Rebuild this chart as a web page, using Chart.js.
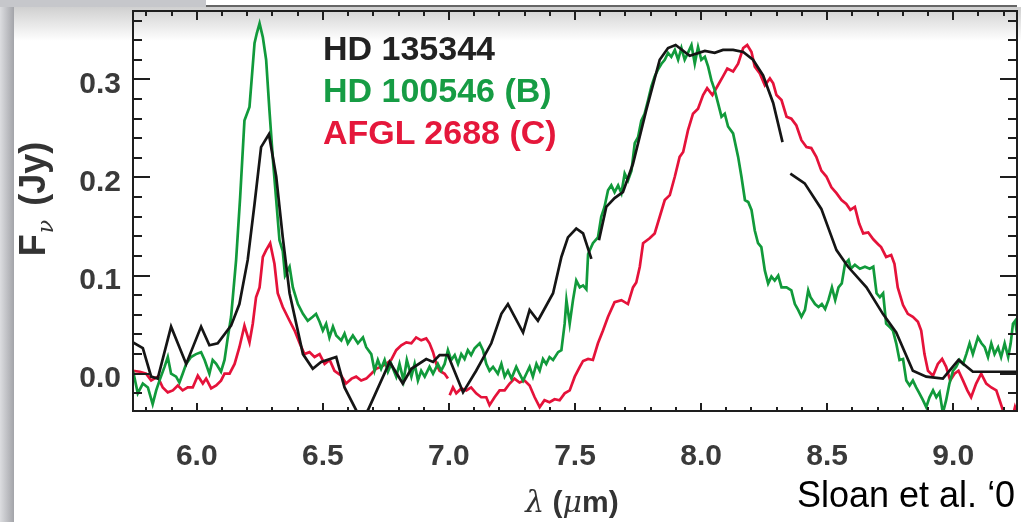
<!DOCTYPE html>
<html>
<head>
<meta charset="utf-8">
<script src="https://cdn.jsdelivr.net/npm/chart.js@4.4.1/dist/chart.umd.min.js"></script>
<style>
  html, body { margin: 0; padding: 0; background: #fff; }
  #wrap { position: relative; width: 1021px; height: 522px; overflow: hidden; background: #fff; }
  .strip-left { position: absolute; left: 0; top: 0; width: 14px; height: 522px;
    background: linear-gradient(to right, #dcdde0, #a3a4a9); }
  .strip-top { position: absolute; left: 0; top: 0; width: 206px; height: 7px; background: #c6c7cb; }
  .band-top { position: absolute; left: 206px; top: 5px; width: 811px; height: 2px; background: #666; }
  .shadow-top { position: absolute; left: 14px; top: 7px; width: 1007px; height: 34px;
    background: linear-gradient(to bottom, rgba(150,150,150,0.45), rgba(255,255,255,0)); }
  canvas { position: absolute; left: 0; top: 0; }
  .txt { position: absolute; font-family: "Liberation Sans", Arial, sans-serif; white-space: nowrap; }
  .legend { left: 323px; top: 27px; font-size: 34px; font-weight: bold; line-height: 42px; }
  .ytitle { left: -37px; top: 179px; width: 140px; height: 40px; line-height: 40px; text-align: center;
    font-size: 36px; font-weight: bold; color: #333; transform: rotate(-90deg); }
  .ytitle i { font-family: "DejaVu Serif", serif; font-weight: normal; font-size: 22px; position: relative; top: 8px; margin-left: 1px; margin-right: 4px; }
  .xtitle { left: 472px; top: 484px; width: 200px; text-align: center; font-size: 30px; line-height: 36px; color: #333; }
  .xtitle i { font-family: "DejaVu Serif", serif; }
  .cite { left: 797px; top: 475px; font-size: 36px; line-height: 40px; color: #000; }
</style>
</head>
<body>
<div id="wrap">
  <div class="strip-left"></div>
  <div class="strip-top"></div>
  <div class="band-top"></div>
  <div class="shadow-top"></div>
  <canvas id="js-spectrum" width="1021" height="522"></canvas>
  <div class="txt legend">
    <div style="color:#222">HD 135344</div>
    <div style="color:#169c44">HD 100546 (B)</div>
    <div style="color:#e5173b">AFGL 2688 (C)</div>
  </div>
  <div class="txt ytitle">F<i>ν</i> (Jy)</div>
  <div class="txt xtitle"><i>λ</i> <b>(</b><i>μ</i><b>m)</b></div>
  <div class="txt cite">Sloan et al. ‘0</div>
</div>
<script>
"use strict";

// 横軸ラベル・目盛り
const xTickValues = [6.0, 6.5, 7.0, 7.5, 8.0, 8.5, 9.0];
const yTickValues = [0.0, 0.1, 0.2, 0.3];

// HD 135344 (黒) null = 途切れ
const hd135344Lam = [
  5.747, 5.786, 5.819, 5.845, 5.898, 5.958, 6.017, 6.050, 6.083, 6.136,
  6.169, 6.202, 6.229, 6.255, 6.286, 6.315, 6.341, 6.368, 6.421, 6.460,
  6.493, 6.553, 6.586, 6.632, 6.655, 6.679, 6.765, 6.817, 6.851, 6.910,
  6.937, 6.963, 6.996, 7.056, 7.108, 7.168, 7.208, 7.234, 7.294, 7.320,
  7.353, 7.413, 7.446, 7.472, 7.505, 7.532, 7.565, 7.580, 7.595, 7.624,
  7.657, 7.690, 7.730, 7.783, 7.836, 7.869, 7.899, 7.955, 8.015, 8.054,
  8.087, 8.127, 8.167, 8.206, 8.246, 8.286, 8.323, 8.340, 8.354, 8.411,
  8.477, 8.537, 8.583, 8.656, 8.721, 8.774, 8.840, 8.893, 8.959, 9.021,
  9.078, 9.250
];
const hd135344Flux = [
  0.032, 0.026, -0.003, -0.005, 0.048, 0.010, 0.048, 0.029, 0.031, 0.049,
  0.071, 0.116, 0.173, 0.231, 0.244, 0.201, 0.139, 0.082, 0.020, 0.005,
  0.012, 0.017, -0.014, -0.037, -0.048, -0.037, 0.012, -0.010, 0.005, 0.015,
  0.012, 0.019, 0.019, -0.019, 0.003, 0.031, 0.061, 0.071, 0.042, 0.065,
  0.054, 0.082, 0.119, 0.139, 0.148, 0.143, 0.117, null, 0.136, 0.170,
  0.179, 0.185, 0.214, 0.269, 0.320, 0.332, 0.335, 0.324, 0.329, 0.327,
  0.330, 0.330, 0.328, 0.320, 0.304, 0.276, 0.236, null, 0.204, 0.194,
  0.168, 0.126, 0.109, 0.088, 0.061, 0.042, 0.003, -0.003, -0.005, 0.014,
  0.002, 0.002
];

// HD 100546 (緑)
const hd100546Lam = [
  5.747, 5.766, 5.786, 5.806, 5.825, 5.839, 5.852, 5.872, 5.885, 5.898,
  5.918, 5.931, 5.944, 5.958, 5.977, 5.997, 6.017, 6.031, 6.050, 6.063,
  6.077, 6.096, 6.110, 6.123, 6.136, 6.156, 6.172, 6.189, 6.209, 6.229,
  6.238, 6.249, 6.262, 6.275, 6.288, 6.302, 6.315, 6.328, 6.341, 6.350,
  6.368, 6.381, 6.401, 6.421, 6.440, 6.460, 6.473, 6.487, 6.500, 6.513,
  6.526, 6.540, 6.553, 6.573, 6.586, 6.599, 6.619, 6.639, 6.659, 6.672,
  6.692, 6.705, 6.718, 6.731, 6.745, 6.758, 6.771, 6.791, 6.804, 6.820,
  6.833, 6.851, 6.864, 6.877, 6.890, 6.904, 6.923, 6.937, 6.956, 6.969,
  6.983, 6.996, 7.009, 7.023, 7.036, 7.049, 7.062, 7.075, 7.088, 7.102,
  7.122, 7.135, 7.148, 7.161, 7.175, 7.194, 7.208, 7.221, 7.234, 7.248,
  7.267, 7.280, 7.294, 7.307, 7.320, 7.333, 7.347, 7.360, 7.373, 7.386,
  7.399, 7.413, 7.433, 7.446, 7.459, 7.466, 7.479, 7.492, 7.505, 7.519,
  7.532, 7.545, 7.552, 7.571, 7.591, 7.604, 7.617, 7.631, 7.644, 7.657,
  7.671, 7.684, 7.697, 7.710, 7.724, 7.737, 7.750, 7.763, 7.776, 7.790,
  7.803, 7.816, 7.829, 7.843, 7.856, 7.869, 7.882, 7.896, 7.909, 7.922,
  7.935, 7.948, 7.962, 7.975, 7.988, 8.001, 8.015, 8.028, 8.041, 8.054,
  8.067, 8.081, 8.094, 8.107, 8.127, 8.147, 8.160, 8.174, 8.187, 8.200,
  8.213, 8.226, 8.239, 8.253, 8.266, 8.279, 8.292, 8.306, 8.319, 8.339,
  8.358, 8.372, 8.385, 8.398, 8.412, 8.425, 8.434, 8.452, 8.466, 8.479,
  8.492, 8.505, 8.519, 8.532, 8.545, 8.558, 8.571, 8.585, 8.594, 8.610,
  8.630, 8.650, 8.669, 8.683, 8.696, 8.709, 8.722, 8.734, 8.747, 8.761,
  8.774, 8.787, 8.801, 8.814, 8.827, 8.840, 8.853, 8.866, 8.880, 8.893,
  8.906, 8.920, 8.933, 8.946, 8.959, 8.972, 8.985, 8.999, 9.012, 9.025,
  9.039, 9.052, 9.065, 9.078, 9.098, 9.112, 9.125, 9.138, 9.151, 9.164,
  9.178, 9.190, 9.204, 9.218, 9.228, 9.237, 9.246, 9.253
];
const hd100546Flux = [
  0.003, -0.020, -0.010, -0.014, -0.031, -0.017, -0.007, 0.007, 0.017, 0.000,
  -0.003, -0.009, 0.000, 0.010, 0.017, 0.020, 0.022, 0.014, 0.000, 0.014,
  0.010, 0.002, 0.014, 0.037, 0.058, 0.116, 0.180, 0.258, 0.272, 0.337,
  0.347, 0.357, 0.343, 0.320, 0.269, 0.218, 0.177, 0.136, 0.125, 0.100,
  0.109, 0.088, 0.071, 0.061, 0.054, 0.058, 0.061, 0.053, 0.044, 0.051,
  0.037, 0.048, 0.039, 0.034, 0.041, 0.031, 0.039, 0.031, 0.037, 0.027,
  0.020, 0.003, 0.014, 0.005, 0.014, 0.002, 0.010, -0.003, 0.010, -0.007,
  0.014, -0.003, 0.010, -0.007, 0.003, -0.003, 0.007, 0.000, 0.010, 0.003,
  0.010, 0.024, 0.014, 0.019, 0.010, 0.020, 0.015, 0.024, 0.019, 0.026,
  0.031, 0.024, 0.010, 0.003, 0.007, 0.000, 0.010, -0.003, 0.003, -0.005,
  0.007, 0.000, -0.007, 0.000, 0.007, -0.003, 0.010, 0.003, 0.015, 0.010,
  0.017, 0.014, 0.022, 0.024, 0.051, 0.075, 0.051, 0.075, 0.095, 0.088,
  0.090, 0.086, 0.122, 0.133, 0.139, 0.160, 0.170, 0.187, 0.192, 0.185,
  0.192, 0.184, 0.204, 0.197, 0.207, 0.235, 0.241, 0.258, 0.265, 0.279,
  0.293, 0.303, 0.310, 0.316, 0.320, 0.327, 0.323, 0.330, 0.320, 0.332,
  0.320, 0.327, 0.335, 0.316, 0.333, 0.320, 0.323, 0.313, 0.299, 0.289,
  0.276, 0.262, 0.265, 0.252, 0.245, 0.221, 0.201, 0.177, 0.175, 0.167,
  0.146, 0.133, 0.129, 0.105, 0.092, 0.099, 0.095, 0.100, 0.088, 0.088,
  0.085, 0.071, 0.065, 0.058, 0.065, 0.085, 0.078, 0.071, 0.068, 0.071,
  0.066, 0.075, 0.088, 0.075, 0.088, 0.092, 0.112, 0.116, 0.107, 0.111,
  0.107, 0.109, 0.107, 0.109, 0.082, 0.078, 0.082, 0.051, 0.048, 0.044,
  0.031, 0.014, 0.015, -0.007, -0.012, -0.007, -0.014, -0.020, -0.027, -0.034,
  -0.024, -0.017, -0.024, -0.019, -0.040, -0.027, -0.010, 0.003, 0.007, 0.014,
  0.010, 0.020, 0.031, 0.020, 0.037, 0.031, 0.027, 0.017, 0.031, 0.020,
  0.027, 0.017, 0.031, 0.017, 0.031, 0.051, 0.054, 0.040
];

// AFGL 2688 (赤)
const afgl2688Lam = [
  5.747, 5.774, 5.799, 5.819, 5.845, 5.865, 5.885, 5.905, 5.925, 5.944,
  5.964, 5.984, 6.004, 6.024, 6.037, 6.057, 6.077, 6.096, 6.110, 6.130,
  6.150, 6.169, 6.189, 6.209, 6.222, 6.235, 6.249, 6.262, 6.275, 6.291,
  6.308, 6.321, 6.341, 6.368, 6.388, 6.408, 6.427, 6.447, 6.467, 6.487,
  6.507, 6.527, 6.546, 6.573, 6.592, 6.614, 6.632, 6.652, 6.672, 6.692,
  6.711, 6.731, 6.751, 6.771, 6.791, 6.811, 6.831, 6.851, 6.870, 6.890,
  6.910, 6.923, 6.937, 6.950, 6.963, 6.983, 6.996, 7.000, 7.003, 7.016,
  7.029, 7.049, 7.069, 7.088, 7.108, 7.128, 7.148, 7.161, 7.181, 7.201,
  7.221, 7.241, 7.260, 7.280, 7.300, 7.320, 7.340, 7.360, 7.379, 7.399,
  7.419, 7.439, 7.459, 7.479, 7.499, 7.519, 7.532, 7.552, 7.571, 7.591,
  7.611, 7.631, 7.657, 7.684, 7.710, 7.730, 7.743, 7.757, 7.770, 7.796,
  7.816, 7.836, 7.856, 7.876, 7.896, 7.915, 7.929, 7.948, 7.968, 7.988,
  8.008, 8.024, 8.045, 8.067, 8.087, 8.104, 8.127, 8.147, 8.167, 8.183,
  8.200, 8.213, 8.233, 8.253, 8.273, 8.286, 8.299, 8.319, 8.339, 8.358,
  8.378, 8.398, 8.418, 8.437, 8.457, 8.477, 8.497, 8.517, 8.537, 8.557,
  8.576, 8.592, 8.610, 8.627, 8.643, 8.663, 8.683, 8.702, 8.714, 8.734,
  8.754, 8.767, 8.780, 8.801, 8.820, 8.840, 8.860, 8.873, 8.886, 8.900,
  8.920, 8.939, 8.956, 8.972, 8.988, 9.005, 9.021, 9.039, 9.056, 9.071,
  9.091, 9.111, 9.131, 9.151, 9.171, 9.184, 9.197, 9.212, 9.235, 9.245,
  9.253
];
const afgl2688Flux = [
  0.003, 0.002, 0.000, -0.007, -0.003, -0.014, -0.019, -0.017, -0.012, -0.017,
  -0.014, -0.014, -0.002, -0.010, -0.005, -0.015, -0.012, -0.007, 0.000, 0.000,
  0.010, 0.027, 0.049, 0.032, 0.051, 0.078, 0.088, 0.119, 0.126, 0.133,
  0.112, 0.082, 0.068, 0.054, 0.044, 0.031, 0.020, 0.022, 0.017, 0.020,
  0.010, 0.014, 0.003, -0.002, -0.010, -0.005, -0.003, -0.007, -0.005, 0.000,
  0.005, 0.007, 0.010, 0.014, 0.024, 0.029, 0.032, 0.031, 0.037, 0.034,
  0.036, 0.031, 0.022, 0.010, 0.003, 0.000, -0.005, null, -0.022, -0.014,
  -0.020, -0.015, -0.017, -0.014, -0.020, -0.024, -0.024, -0.032, -0.024, -0.017,
  -0.017, -0.010, -0.005, -0.009, -0.007, -0.012, -0.024, -0.034, -0.027, -0.029,
  -0.026, -0.027, -0.020, -0.017, -0.003, 0.007, 0.013, 0.015, 0.014, 0.031,
  0.044, 0.058, 0.073, 0.075, 0.071, 0.088, 0.093, 0.109, 0.133, 0.138,
  0.143, 0.160, 0.177, 0.182, 0.201, 0.221, 0.226, 0.248, 0.265, 0.270,
  0.284, 0.291, 0.284, 0.294, 0.303, 0.311, 0.308, 0.316, 0.332, 0.335,
  0.328, 0.313, 0.306, 0.294, 0.301, 0.296, 0.284, 0.279, 0.262, 0.260,
  0.253, 0.238, 0.231, 0.230, 0.221, 0.207, 0.201, 0.190, 0.184, 0.177,
  0.173, 0.167, 0.170, 0.153, 0.143, 0.144, 0.137, 0.132, 0.129, 0.119,
  0.121, 0.112, 0.088, 0.070, 0.061, 0.058, 0.053, 0.044, 0.020, 0.003,
  -0.002, 0.010, 0.015, 0.007, -0.007, 0.000, 0.003, -0.007, -0.017, -0.024,
  -0.010, 0.000, -0.010, -0.014, -0.017, -0.027, -0.037, -0.048, -0.045, -0.034,
  -0.040
];

const toPoints = (lam, flux) => lam.map((v, i) => ({ x: v, y: flux[i] }));

// 枠と内向きの目盛り（上下左右）
const frameTicks = {
  id: "frameTicks",
  afterDraw(chart) {
    const { ctx, chartArea: a, scales } = chart;
    const x = scales.x, y = scales.y;
    ctx.save();
    ctx.strokeStyle = "#1e1e1e";
    ctx.lineWidth = 2;
    ctx.beginPath();
    for (let i = 58; i <= 92; i++) {
      const px = Math.round(x.getPixelForValue(i / 10));
      const major = i % 5 === 0;
      ctx.moveTo(px, a.bottom);
      ctx.lineTo(px, a.bottom - (major ? 8 : 4));
      ctx.moveTo(px, a.top);
      ctx.lineTo(px, a.top + (major ? 9 : 5));
    }
    for (let i = -2; i <= 36; i += 2) {
      const py = Math.round(y.getPixelForValue(i / 100));
      const major = i % 10 === 0;
      ctx.moveTo(a.left, py);
      ctx.lineTo(a.left + (major ? 17 : 9), py);
      ctx.moveTo(a.right, py);
      ctx.lineTo(a.right - (major ? 17 : 9), py);
    }
    ctx.stroke();
    ctx.strokeRect(a.left, a.top, a.right - a.left, a.bottom - a.top);
    ctx.restore();
  },
};

const tickFont = { family: "'Liberation Sans', Arial, sans-serif", size: 30, weight: "bold" };

let ctx = document.getElementById("js-spectrum").getContext("2d");
let myChart = new Chart(ctx, {
  type: "line",
  data: {
    datasets: [
      { label: "HD 135344", data: toPoints(hd135344Lam, hd135344Flux), borderColor: "#151515" },
      { label: "HD 100546 (B)", data: toPoints(hd100546Lam, hd100546Flux), borderColor: "#119a3b" },
      { label: "AFGL 2688 (C)", data: toPoints(afgl2688Lam, afgl2688Flux), borderColor: "#e5123a" },
    ],
  },
  options: {
    responsive: false,
    animation: false,
    devicePixelRatio: 1,
    layout: { padding: { left: 0, right: 4, top: 11, bottom: 0 } },
    elements: {
      line: { borderWidth: 2.7, tension: 0 },
      point: { radius: 0 },
    },
    spanGaps: false,
    plugins: { legend: { display: false }, tooltip: { enabled: false } },
    scales: {
      x: {
        type: "linear",
        min: 5.747,
        max: 9.253,
        grid: { display: false, drawTicks: false },
        border: { display: false },
        afterBuildTicks: (s) => { s.ticks = xTickValues.map((v) => ({ value: v })); },
        afterFit: (s) => { s.height = 111; s.paddingLeft = 0; s.paddingRight = 0; },
        ticks: {
          font: tickFont,
          color: "#3a3a3a",
          padding: 28,
          maxRotation: 0,
          callback: (v) => Number(v).toFixed(1),
        },
      },
      y: {
        type: "linear",
        min: -0.038,
        max: 0.3697,
        grid: { display: false, drawTicks: false },
        border: { display: false },
        afterBuildTicks: (s) => { s.ticks = yTickValues.map((v) => ({ value: v })); },
        afterFit: (s) => { s.width = 133; s.paddingTop = 0; s.paddingBottom = 0; },
        ticks: {
          font: tickFont,
          color: "#3a3a3a",
          padding: 12,
          labelOffset: 5,
          callback: (v) => Number(v).toFixed(1),
        },
      },
    },
  },
  plugins: [frameTicks],
});
</script>
</body>
</html>
